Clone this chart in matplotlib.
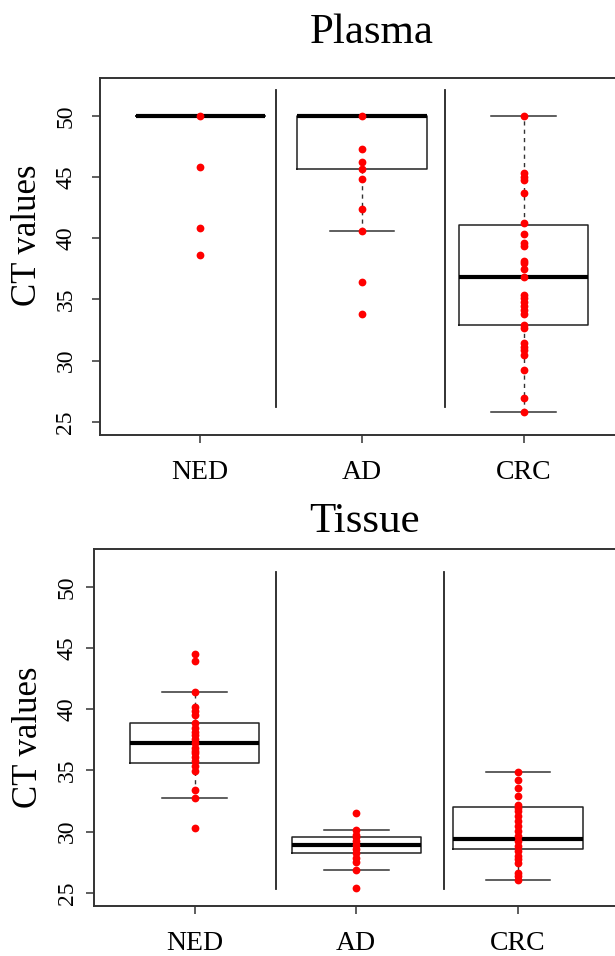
import numpy as np
import matplotlib
matplotlib.use('Agg')
import matplotlib.pyplot as plt

plt.rcParams['font.family'] = ['Liberation Serif', 'DejaVu Serif']

# groups
groups = ['NED', 'AD', 'CRC']
yticks = [25, 30, 35, 40, 45, 50]

# Plasma - points (CT values)
plasma_ned = [50.0, 45.86, 40.88, 38.64]
plasma_ad = [50.0, 47.28, 46.27, 45.64, 44.88, 42.43, 40.58, 36.44, 33.8]
plasma_crc = [50.0, 45.3, 45.0, 44.8, 43.68, 41.23, 40.36, 39.65, 39.38, 38.18,
              37.96, 37.47, 36.87, 35.38, 35.1, 34.83, 34.48, 34.15, 33.82,
              32.92, 32.65, 31.43, 31.15, 30.83, 30.47, 29.2, 26.94, 25.76]

# Plasma - box stats: whislo, q1, med, q3, whishi
plasma_whislo = [50.0, 40.58, 25.76]
plasma_q1 = [50.0, 45.64, 32.9]
plasma_med = [50.0, 50.0, 36.85]
plasma_q3 = [50.0, 50.0, 41.1]
plasma_whishi = [50.0, 50.0, 50.0]

# Tissue - points
tissue_ned = [44.49, 43.97, 41.44, 40.22, 39.9, 39.54, 38.92, 38.5, 38.18, 37.9,
              37.56, 37.24, 36.83, 36.6, 36.42, 36.1, 35.74, 35.33, 34.98,
              33.37, 32.72, 30.31]
tissue_ad = [31.5, 30.17, 29.76, 29.54, 29.22, 28.87, 28.54, 28.22, 27.86,
             27.5, 26.83, 25.36]
tissue_crc = [34.84, 34.25, 33.57, 32.89, 32.21, 31.94, 31.66, 31.25, 30.85,
              30.44, 30.03, 29.62, 29.22, 28.81, 28.4, 28.0, 27.73, 27.46,
              26.64, 26.37, 26.04]

# Tissue - box stats
tissue_whislo = [32.72, 26.83, 26.04]
tissue_q1 = [35.6, 28.27, 28.54]
tissue_med = [37.24, 28.87, 29.36]
tissue_q3 = [38.89, 29.54, 31.99]
tissue_whishi = [41.44, 30.11, 34.84]

# separator lines (x position, y from, y to)
plasma_sep_x = [1.468, 2.511]
plasma_sep_y = (26.23, 52.12)
tissue_sep_x = [1.503, 2.546]
tissue_sep_y = (25.28, 51.22)

W, H = 615, 956
fig = plt.figure(figsize=(W / 100, H / 100), dpi=100)


def panel(rect, pts, whislo, q1, med, q3, whishi, sep_x, sep_y, ypad):
    ax = fig.add_axes(rect)
    stats = []
    for i in range(3):
        stats.append(dict(whislo=whislo[i], q1=q1[i], med=med[i], q3=q3[i],
                          whishi=whishi[i], fliers=[]))
    ax.bxp(stats, positions=[1, 2, 3], widths=0.8, capwidths=0.4,
           showfliers=False,
           boxprops=dict(color='#222222', lw=1.1),
           medianprops=dict(color='black', lw=3.0),
           whiskerprops=dict(color='#333333', lw=1.0, linestyle=(0, (3, 3))),
           capprops=dict(color='#333333', lw=1.1))
    for i, vals in enumerate(pts):
        ax.plot(np.full(len(vals), i + 1), vals, 'o', color='red', ms=5.6,
                mec='none', zorder=5)
    for x in sep_x:
        ax.plot([x, x], sep_y, color='#222222', lw=1.3)
    ax.set_xlim(0.38, 3.62)
    ax.set_ylim(23.92, 53.08)
    ax.set_xticks([1, 2, 3])
    ax.set_xticklabels(groups, fontsize=20)
    ax.set_yticks(yticks)
    ax.set_yticklabels([str(v) for v in yticks], fontsize=17, rotation=90,
                       va='center')
    ax.tick_params(axis='x', length=6, width=1.1, pad=12, color='#333333')
    ax.tick_params(axis='y', length=6, width=1.1, pad=ypad, color='#333333')
    for s in ax.spines.values():
        s.set_linewidth(1.4)
        s.set_color('#333333')
    return ax


panel([100 / W, 1 - 435 / H, 523.8 / W, 356.7 / H],
      [plasma_ned, plasma_ad, plasma_crc],
      plasma_whislo, plasma_q1, plasma_med, plasma_q3, plasma_whishi,
      plasma_sep_x, plasma_sep_y, 11)
panel([94.3 / W, 1 - 906 / H, 523.8 / W, 356.7 / H],
      [tissue_ned, tissue_ad, tissue_crc],
      tissue_whislo, tissue_q1, tissue_med, tissue_q3, tissue_whishi,
      tissue_sep_x, tissue_sep_y, 6)

fig.text(371.7 / W, 1 - 43.3 / H, 'Plasma', fontsize=31, ha='center',
         va='baseline')
fig.text(364 / W, 1 - 531.7 / H, 'Tissue', fontsize=31, ha='center',
         va='baseline')
fig.text(27.5 / W, 1 - 235 / H, 'CT values', fontsize=25, rotation=90,
         ha='center', va='center')
fig.text(28.5 / W, 1 - 737.5 / H, 'CT values', fontsize=25, rotation=90,
         ha='center', va='center')

fig.savefig('out.png', dpi=100)
